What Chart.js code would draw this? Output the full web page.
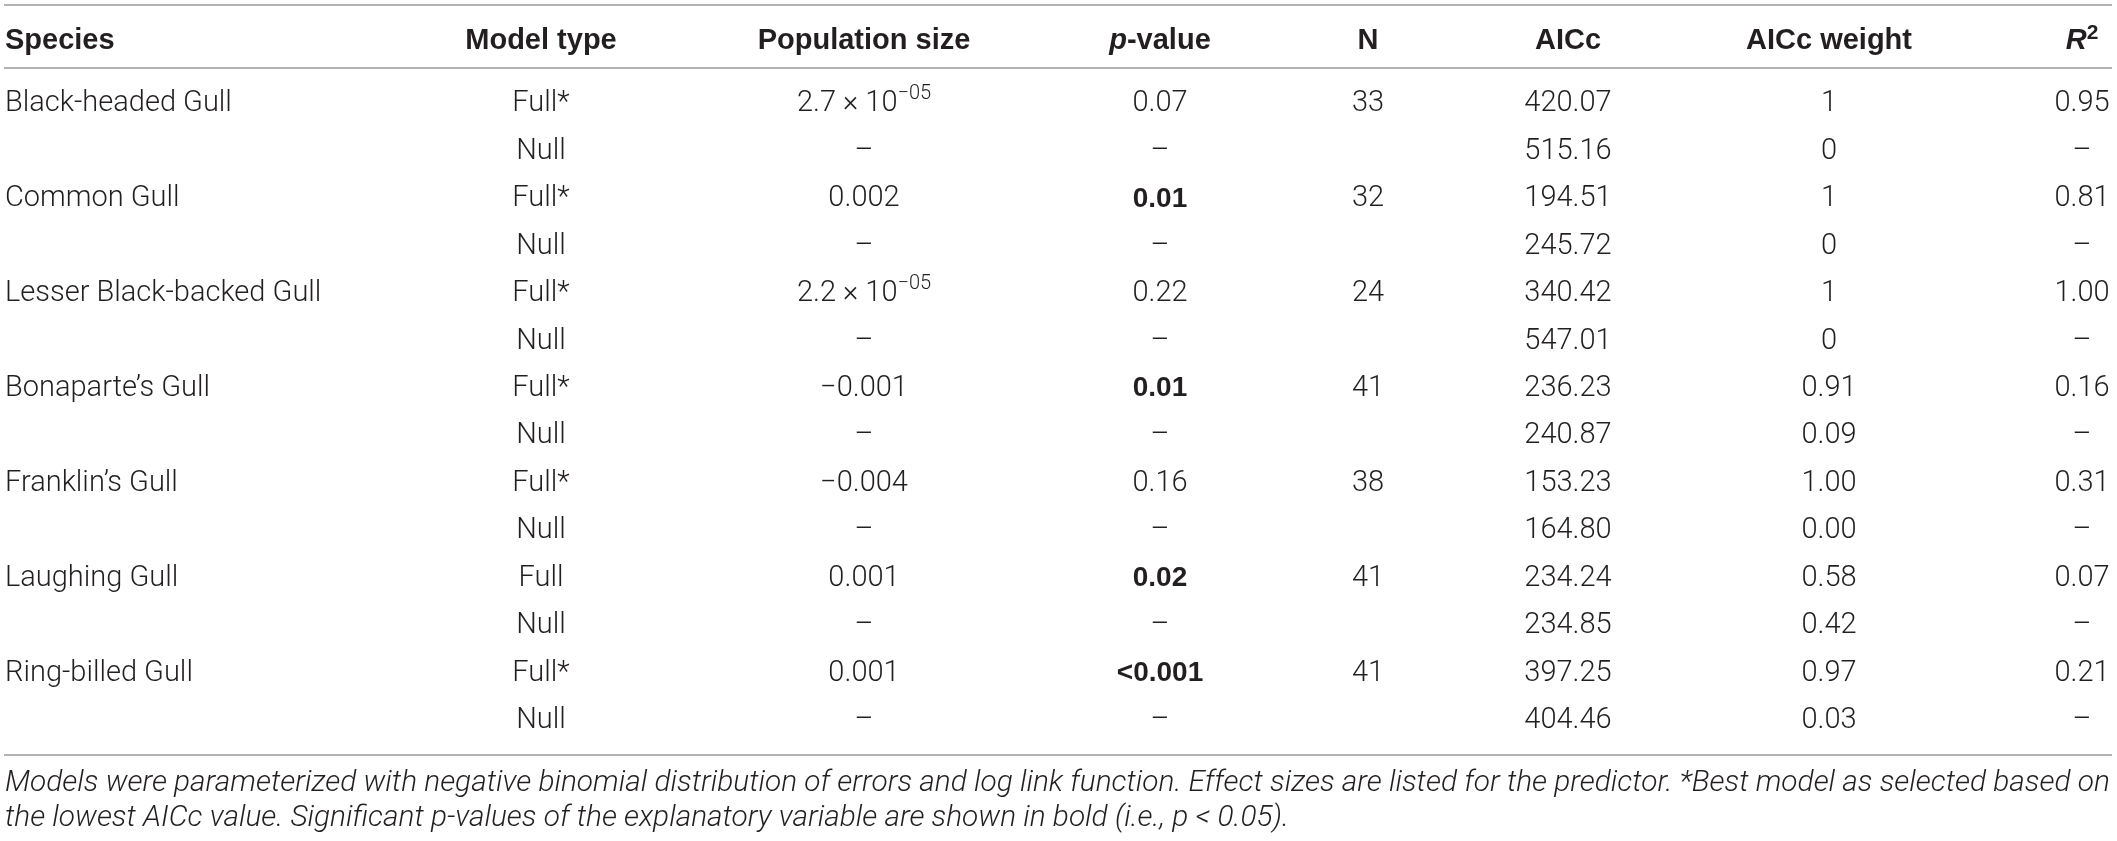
<!DOCTYPE html>
<html>
<head>
<meta charset="utf-8">
<script src="https://cdn.jsdelivr.net/npm/chart.js@4.4.1/dist/chart.umd.min.js"></script>
<style>
  html, body { margin: 0; padding: 0; background: #ffffff; }
  #wrap { width: 2117px; height: 841px; }
</style>
</head>
<body>
<div id="wrap"><canvas id="c" width="2117" height="841"></canvas></div>
<script>
// ---------------- DATA ----------------
const columnHeaders = ['Species', 'Model type', 'Population size', 'p-value', 'N', 'AICc', 'AICc weight', 'R2'];
const species = ['Black-headed Gull', 'Common Gull', 'Lesser Black-backed Gull', 'Bonaparte\u2019s Gull', 'Franklin\u2019s Gull', 'Laughing Gull', 'Ring-billed Gull'];
const modelType = ['Full*', 'Null', 'Full*', 'Null', 'Full*', 'Null', 'Full*', 'Null', 'Full*', 'Null', 'Full', 'Null', 'Full*', 'Null'];
const populationSize = [2.7e-5, null, 0.002, null, 2.2e-5, null, -0.001, null, -0.004, null, 0.001, null, 0.001, null];
const pValue = ['0.07', null, '0.01', null, '0.22', null, '0.01', null, '0.16', null, '0.02', null, '<0.001', null];
const sampleN = [33, null, 32, null, 24, null, 41, null, 38, null, 41, null, 41, null];
const aicc = [420.07, 515.16, 194.51, 245.72, 340.42, 547.01, 236.23, 240.87, 153.23, 164.80, 234.24, 234.85, 397.25, 404.46];
const aiccWeight = ['1', '0', '1', '0', '1', '0', '0.91', '0.09', '1.00', '0.00', '0.58', '0.42', '0.97', '0.03'];
const rSquared = [0.95, null, 0.81, null, 1.00, null, 0.16, null, 0.31, null, 0.07, null, 0.21, null];
const footnote = [
  'Models were parameterized with negative binomial distribution of errors and log link function. Effect sizes are listed for the predictor. *Best model as selected based on',
  'the lowest AICc value. Significant p-values of the explanatory variable are shown in bold (i.e., p < 0.05).'
];

// ---------------- LAYOUT (table geometry, not data) ----------------
const TABLE_WIDTH = 2117;
const columnAnchor = [5, 541, 864, 1160, 1368, 1568, 1829, 2082];
const columnAlign = ['left', 'center', 'center', 'center', 'center', 'center', 'center', 'center'];
const TEXT = '#231f20';
const RULE = '#9a9a9a';
const BODY_FAMILY = 'Roboto, "Liberation Sans", Arial, sans-serif';
const HEAD_FAMILY = '"Liberation Sans", Arial, sans-serif';
const BODY_SIZE = 29;
const HEAD_SIZE = 29;
const DASH = '\u2013';
const MINUS = '\u2212';

const bodyFont = (w) => `normal ${w || 300} ${BODY_SIZE}px ${BODY_FAMILY}`;
const boldFont = () => `normal 700 ${BODY_SIZE - 1}px ${HEAD_FAMILY}`;
const headFont = (it) => `${it ? 'italic' : 'normal'} 700 ${HEAD_SIZE}px ${HEAD_FAMILY}`;

// ---------------- CELL FORMATTERS ----------------
function speciesAt(i) { return i % 2 === 0 ? species[i / 2] : ''; }
function fmtPop(v) {
  if (v == null) return [{ t: DASH, f: bodyFont() }];
  if (Math.abs(v) < 1e-4) {
    const e = Math.floor(Math.log10(Math.abs(v)));
    const m = v / Math.pow(10, e);
    return [
      { t: m.toFixed(1) + ' \u00d7 10', f: bodyFont() },
      { t: MINUS + String(-e).padStart(2, '0'), f: `normal 300 ${Math.round(BODY_SIZE * 0.7)}px ${BODY_FAMILY}`, dy: -10 }
    ];
  }
  return [{ t: (v < 0 ? MINUS : '') + Math.abs(v).toFixed(3), f: bodyFont() }];
}
function fmtP(s) {
  if (s == null) return [{ t: DASH, f: bodyFont() }];
  const sig = parseFloat(s.replace('<', '')) < 0.05;
  return [{ t: s, f: sig ? boldFont() : bodyFont() }];
}
const cellRuns = [
  (i) => [{ t: speciesAt(i), f: bodyFont() }],
  (i) => [{ t: modelType[i], f: bodyFont() }],
  (i) => fmtPop(populationSize[i]),
  (i) => fmtP(pValue[i]),
  (i) => [{ t: sampleN[i] == null ? '' : String(sampleN[i]), f: bodyFont() }],
  (i) => [{ t: aicc[i].toFixed(2), f: bodyFont() }],
  (i) => [{ t: aiccWeight[i], f: bodyFont() }],
  (i) => [{ t: rSquared[i] == null ? DASH : rSquared[i].toFixed(2), f: bodyFont() }]
];
const headerRuns = [
  [{ t: columnHeaders[0], f: headFont() }],
  [{ t: columnHeaders[1], f: headFont() }],
  [{ t: columnHeaders[2], f: headFont() }],
  [{ t: 'p', f: headFont(true) }, { t: '-value', f: headFont() }],
  [{ t: columnHeaders[4], f: headFont() }],
  [{ t: columnHeaders[5], f: headFont() }],
  [{ t: columnHeaders[6], f: headFont() }],
  [{ t: 'R', f: headFont(true) }, { t: '2', f: `normal 700 ${Math.round(HEAD_SIZE * 0.72)}px ${HEAD_FAMILY}`, dy: -8 }]
];

function drawRuns(ctx, runs, x, y, align) {
  let w = 0;
  runs.forEach(r => { ctx.font = r.f; r.w = ctx.measureText(r.t).width; w += r.w; });
  let sx = align === 'left' ? x : (align === 'right' ? x - w : x - w / 2);
  runs.forEach(r => { ctx.font = r.f; ctx.fillText(r.t, sx, y + (r.dy || 0)); sx += r.w; });
}

// ---------------- DATASETS (one invisible point per cell) ----------------
const datasets = columnHeaders.map((h, c) => ({
  label: h,
  data: modelType.map((_, i) => ({ x: columnAnchor[c], y: i })),
  pointRadius: 0,
  pointHoverRadius: 0,
  showLine: false
}));

const tablePlugin = {
  id: 'tablePlugin',
  afterDatasetsDraw(chart) {
    const ctx = chart.ctx;
    const area = chart.chartArea;
    const xs = chart.scales.x;
    ctx.save();
    ctx.textBaseline = 'middle';
    ctx.fillStyle = TEXT;
    // rules
    ctx.strokeStyle = RULE;
    ctx.lineWidth = 1.6;
    const L = 4, R = 2112;
    [area.top - 63, area.top, area.bottom].forEach(y => {
      ctx.beginPath(); ctx.moveTo(L, y); ctx.lineTo(R, y); ctx.stroke();
    });
    // header
    headerRuns.forEach((runs, c) => {
      drawRuns(ctx, runs, xs.getPixelForValue(columnAnchor[c]), area.top - 27, columnAlign[c]);
    });
    // body cells from dataset elements
    chart.data.datasets.forEach((ds, c) => {
      const meta = chart.getDatasetMeta(c);
      meta.data.forEach((el, i) => {
        drawRuns(ctx, cellRuns[c](i), el.x, el.y, columnAlign[c]);
      });
    });
    // footnote, fitted to table width
    let fs = 28;
    ctx.font = `italic 300 ${fs}px ${BODY_FAMILY}`;
    const w1 = ctx.measureText(footnote[0]).width;
    fs = fs * (R - 2 - 5) / w1;
    ctx.font = `italic 300 ${fs}px ${BODY_FAMILY}`;
    ctx.fillText(footnote[0], 5, area.bottom + 29);
    ctx.fillText(footnote[1], 5, area.bottom + 64);
    ctx.restore();
  }
};

new Chart(document.getElementById('c'), {
  type: 'scatter',
  data: { datasets },
  options: {
    responsive: false,
    animation: false,
    events: [],
    layout: { padding: { top: 68, bottom: 86, left: 0, right: 0 } },
    scales: {
      x: { type: 'linear', min: 0, max: TABLE_WIDTH, display: false },
      y: { type: 'linear', min: -0.76, max: 13.72, reverse: true, display: false }
    },
    plugins: { legend: { display: false }, tooltip: { enabled: false }, title: { display: false } }
  },
  plugins: [tablePlugin]
});
</script>
</body>
</html>
